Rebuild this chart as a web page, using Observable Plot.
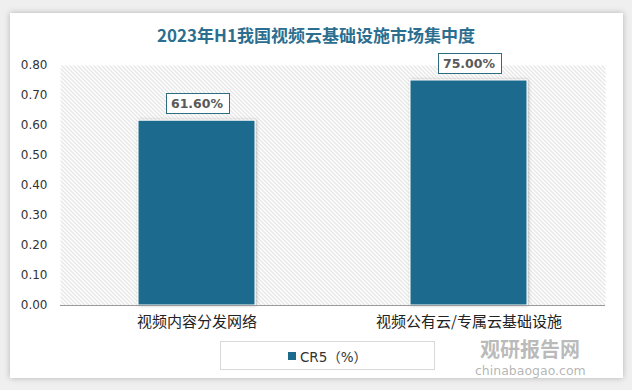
<!DOCTYPE html>
<html>
<head>
<meta charset="utf-8">
<script src="https://cdn.jsdelivr.net/npm/d3@7"></script>
<script src="https://cdn.jsdelivr.net/npm/@observablehq/plot@0.6"></script>
<style>
  html, body { margin: 0; padding: 0; background: #f2f2f2; }
  #wrap { position: relative; width: 632px; height: 390px; overflow: hidden; background: #efefef; }
  #card { position: absolute; left: 10px; top: 13px; width: 613px; height: 365px; background: #fff; box-shadow: 0 0 6px rgba(0,0,0,0.25); }
  #title { position: absolute; left: 0; top: 22px; width: 632px; text-align: center; font: bold 17px "Noto Sans CJK SC", sans-serif; color: #2b6e8f; }
  #chart { position: absolute; left: 0; top: 0; }
  #legend { position: absolute; left: 220px; top: 341px; width: 215px; height: 29px; border: 1px solid #d9d9d9; box-sizing: border-box; display: flex; align-items: center; justify-content: center; font: 13.5px "DejaVu Sans", "Noto Sans CJK SC", sans-serif; color: #333; }
  #legend .sw { width: 8px; height: 8px; background: #1c6b8d; margin-right: 4px; }
  #wm1 { position: absolute; left: 480px; top: 339px; height: 20px; font: bold 20px/20px "Noto Sans CJK SC", sans-serif; color: rgba(140,140,140,0.6); }
  #wm2 { position: absolute; left: 475px; top: 365px; height: 12px; font: 12.5px/12px "DejaVu Sans", sans-serif; color: rgba(140,140,140,0.65); }
</style>
</head>
<body>
<div id="wrap">
  <div id="card"></div>
  <div id="title"></div>
  <div id="chart"></div>
  <div id="wm1">观研报告网</div>
  <div id="wm2">chinabaogao.com</div>
  <div id="legend"><span class="sw"></span><span id="legtext"></span></div>
</div>
<script>
const titleText = "2023年H1我国视频云基础设施市场集中度";
const categories = ["视频内容分发网络", "视频公有云/专属云基础设施"];
const values = [0.616, 0.75];
const valueLabels = ["61.60%", "75.00%"];
const yTicks = [0, 0.1, 0.2, 0.3, 0.4, 0.5, 0.6, 0.7, 0.8];
const seriesName = "CR5（%）";

document.getElementById("title").textContent = titleText;
document.getElementById("legtext").textContent = seriesName;

const data = categories.map((c, i) => ({category: c, value: values[i], label: valueLabels[i]}));

const svg = Plot.plot({
  width: 632,
  height: 330,
  marginTop: 65,
  marginBottom: 25,
  marginLeft: 60,
  marginRight: 27,
  style: {background: "transparent", overflow: "visible"},
  x: {domain: categories, paddingInner: 0.57, paddingOuter: 0.285, label: null},
  y: {domain: [0, 0.8], label: null},
  marks: [
    Plot.frame({fill: "url(#hatch)", stroke: null}),
    Plot.axisY({ticks: yTicks, tickFormat: d3.format(".2f"), tickSize: 0, tickPadding: 13,
      fontSize: 12, fontFamily: "DejaVu Sans", fill: "#333", label: null}),
    Plot.axisX({tickSize: 0, tickPadding: 11, fontSize: 15, fontFamily: "Noto Sans CJK SC", fill: "#222", label: null}),
    Plot.barY(data, {x: "category", y: "value", fill: "#1c6b8d", stroke: "#fff", strokeWidth: 1}),
    Plot.ruleY([0], {stroke: "#9a9a9a", strokeWidth: 1}),
    Plot.text(data, {x: "category", y: "value", text: "label", dy: -17, lineAnchor: "middle",
      fontSize: 12.5, fontWeight: "bold", fontFamily: "DejaVu Sans", fill: "#595959"})
  ]
});

document.getElementById("chart").appendChild(svg);

const s = d3.select(svg);
const defs = s.insert("defs", ":first-child");
const pat = defs.append("pattern").attr("id", "hatch").attr("patternUnits", "userSpaceOnUse")
  .attr("width", 4).attr("height", 4);
pat.append("rect").attr("width", 4).attr("height", 4).attr("fill", "#fff");
pat.append("path").attr("d", "M0,0 L4,4 M-1,3 L1,5 M3,-1 L5,1")
  .attr("stroke", "#c2c2c2").attr("stroke-width", 0.8);
const f = defs.append("filter").attr("id", "shadow").attr("x", "-10%").attr("y", "-10%").attr("width", "120%").attr("height", "120%");
f.append("feDropShadow").attr("dx", 1).attr("dy", 0).attr("stdDeviation", 1.5).attr("flood-color", "#000").attr("flood-opacity", 0.3);

s.selectAll('g[aria-label="bar"]').attr("filter", "url(#shadow)");

// label boxes around value labels
const labelTexts = Array.from(svg.querySelectorAll("text")).filter(t => valueLabels.includes(t.textContent));
const boxLayer = document.createElementNS("http://www.w3.org/2000/svg", "g");
if (labelTexts.length) {
  const grp = labelTexts[0].parentNode;
  grp.parentNode.insertBefore(boxLayer, grp);
  const sr = svg.getBoundingClientRect();
  labelTexts.forEach(t => {
    const r = t.getBoundingClientRect();
    const cy = r.top - sr.top + r.height / 2;
    const rect = document.createElementNS("http://www.w3.org/2000/svg", "rect");
    rect.setAttribute("x", Math.round(r.left - sr.left - 5) + 0.5);
    rect.setAttribute("y", Math.round(cy - 10) + 0.5);
    rect.setAttribute("width", Math.round(r.width + 10));
    rect.setAttribute("height", 20);
    rect.setAttribute("fill", "#fff");
    rect.setAttribute("stroke", "#2e6d80");
    rect.setAttribute("stroke-width", "1");
    boxLayer.appendChild(rect);
  });
}
</script>
</body>
</html>
